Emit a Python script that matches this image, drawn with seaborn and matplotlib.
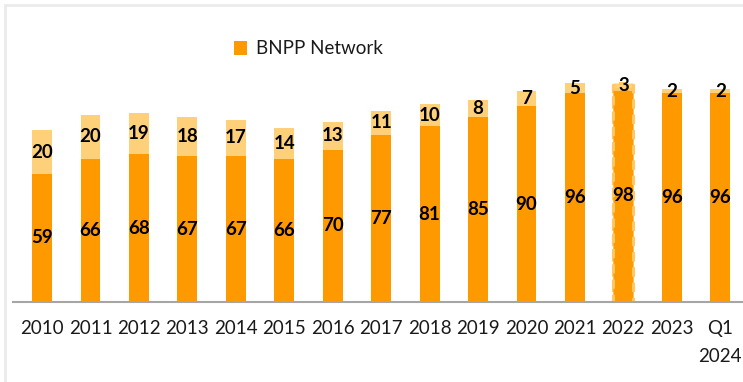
import matplotlib
matplotlib.use("Agg")
import matplotlib.pyplot as plt
import matplotlib.patches as mpatches
import seaborn as sns
import pandas as pd

# Network share per period (percent), split into BNPP network and remainder
periods = ["2010", "2011", "2012", "2013", "2014", "2015", "2016", "2017",
           "2018", "2019", "2020", "2021", "2022", "2023", "Q1\n2024"]
bnpp_network = [59, 66, 68, 67, 67, 66, 70, 77, 81, 85, 90, 96, 98, 96, 96]
other = [20, 20, 19, 18, 17, 14, 13, 11, 10, 8, 7, 5, 3, 2, 2]

DARK = "#FF9900"
LIGHT = "#FFD07A"

df = pd.DataFrame({"period": periods, "bnpp": bnpp_network, "other": other})
df["total"] = df["bnpp"] + df["other"]

sns.set_theme(style="white")
plt.rcParams["font.family"] = ["Lato", "DejaVu Sans"]

fig = plt.figure(figsize=(7.43, 3.82), dpi=100)
ax = fig.add_axes([13 / 743, 80 / 382, 730 / 743, 252 / 382])

# stacked bars: full height in light colour, network share over it
sns.barplot(data=df, x="period", y="total", color=LIGHT, saturation=1,
            width=0.41, linewidth=0, ax=ax)
sns.barplot(data=df, x="period", y="bnpp", color=DARK, saturation=1,
            width=0.41, linewidth=0, ax=ax, label="BNPP Network")

# dashed outline on the 2022 bar
n = len(periods)
idx = periods.index("2022")
for patch in (ax.patches[idx], ax.patches[n + idx]):
    patch.set_edgecolor("#FFC864")
    patch.set_linestyle((0, (3, 2)))
    patch.set_linewidth(2.2)

for i in range(n):
    ax.text(i, bnpp_network[i] / 2, str(bnpp_network[i]), ha="center",
            va="center", fontsize=13.5, fontweight="bold", color="black")
    ax.text(i, bnpp_network[i] + other[i] / 2, str(other[i]), ha="center",
            va="center", fontsize=13.5, fontweight="bold", color="black")

ax.set_xlim(-0.6, n - 1 + 0.47)
ax.set_ylim(0, 116)
ax.set_xlabel("")
ax.set_ylabel("")
ax.set_yticks([])
ax.tick_params(axis="x", length=0, pad=13, labelsize=13.5, colors="#1a1a1a")
for lbl in ax.get_xticklabels():
    lbl.set_linespacing(1.75)
for side in ["top", "left", "right"]:
    ax.spines[side].set_visible(False)
ax.spines["bottom"].set_color("#A6A6A6")
ax.spines["bottom"].set_linewidth(1.5)

handles, labels = ax.get_legend_handles_labels()
leg = ax.legend(handles[-1:], labels[-1:], loc="center left",
                bbox_to_anchor=(234 / 743, 1 - 49 / 382),
                bbox_transform=fig.transFigure, frameon=False,
                fontsize=13.5, handlelength=0.7, handleheight=0.7,
                handletextpad=0.45, borderaxespad=0, borderpad=0)
for t in leg.get_texts():
    t.set_color("#1a1a1a")

# thin outer frame
fig.patches.append(mpatches.Rectangle((5 / 743, -0.1), 1.2, 1 - 5 / 382 + 0.1,
                                      transform=fig.transFigure, fill=False,
                                      edgecolor="#EBEBEB", linewidth=2))

fig.savefig("out.png", dpi=100)
